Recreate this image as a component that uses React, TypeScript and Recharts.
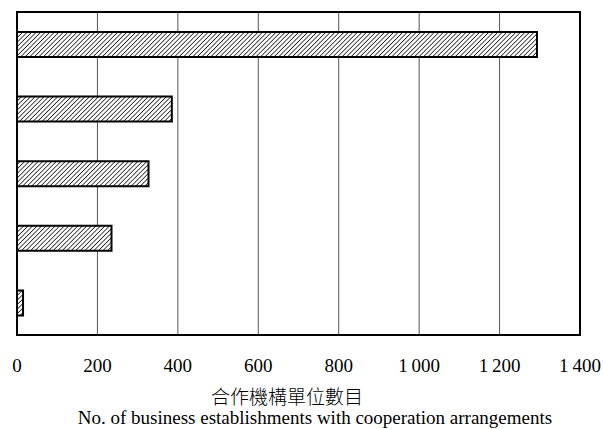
import { BarChart, Bar, XAxis, YAxis, CartesianGrid, ReferenceArea } from "recharts";

const categories = ["A", "B", "C", "D", "E"];
const counts = [1293, 385, 327, 235, 15];
const xTicks = [0, 200, 400, 600, 800, 1000, 1200, 1400];

const data = categories.map((name, i) => ({ name, value: counts[i] }));

const fmt = (v: number) => {
  const s = String(v);
  return s.length > 3 ? s.slice(0, s.length - 3) + "\u2009" + s.slice(-3) : s;
};

const SERIF = '"Liberation Serif", "Times New Roman", serif';

export default function App() {
  return (
    <div style={{ position: "absolute", left: 0, top: 0, width: 603, height: 429, background: "#fff" }}>
      <BarChart
        width={603}
        height={429}
        data={data}
        layout="vertical"
        margin={{ top: 12, right: 23, bottom: 64, left: 17 }}
      >
        <defs>
          <pattern id="hatch" width="3.2" height="3.2" patternUnits="userSpaceOnUse" patternTransform="rotate(45)">
            <rect width="3.2" height="3.2" fill="#fff" />
            <line x1="0" y1="0" x2="0" y2="3.2" stroke="#111" strokeWidth="1.5" />
          </pattern>
        </defs>
        <CartesianGrid horizontal={false} stroke="#555" strokeWidth={1} />
        <XAxis
          type="number"
          domain={[0, 1400]}
          ticks={xTicks}
          tickFormatter={fmt}
          height={30}
          tickLine={false}
          tickSize={0}
          tickMargin={24}
          stroke="#000"
          axisLine={{ stroke: "#000", strokeWidth: 2 }}
          tick={{ fill: "#000", fontSize: 19, fontFamily: SERIF }}
          interval={0}
        />
        <YAxis type="category" dataKey="name" width={0} tick={false} tickLine={false} stroke="#000" />
        <Bar
          dataKey="value"
          fill="url(#hatch)"
          stroke="#000"
          strokeWidth={2}
          barSize={25}
          isAnimationActive={false}
        />
        <ReferenceArea x1={0} x2={1400} fill="none" stroke="#000" strokeWidth={2} ifOverflow="visible" />
      </BarChart>
      <div
        style={{
          position: "absolute",
          left: 187,
          width: 200,
          top: 385,
          textAlign: "center",
          fontFamily: '"Noto Sans CJK TC", sans-serif',
          fontWeight: 300,
          fontSize: 19,
          lineHeight: "22px",
          color: "#000",
        }}
      >
        合作機構單位數目
      </div>
      <div
        style={{
          position: "absolute",
          left: 15,
          width: 600,
          top: 407,
          textAlign: "center",
          fontFamily: SERIF,
          fontSize: 19,
          lineHeight: "22px",
          color: "#000",
          whiteSpace: "nowrap",
        }}
      >
        No. of business establishments with cooperation arrangements
      </div>
    </div>
  );
}
